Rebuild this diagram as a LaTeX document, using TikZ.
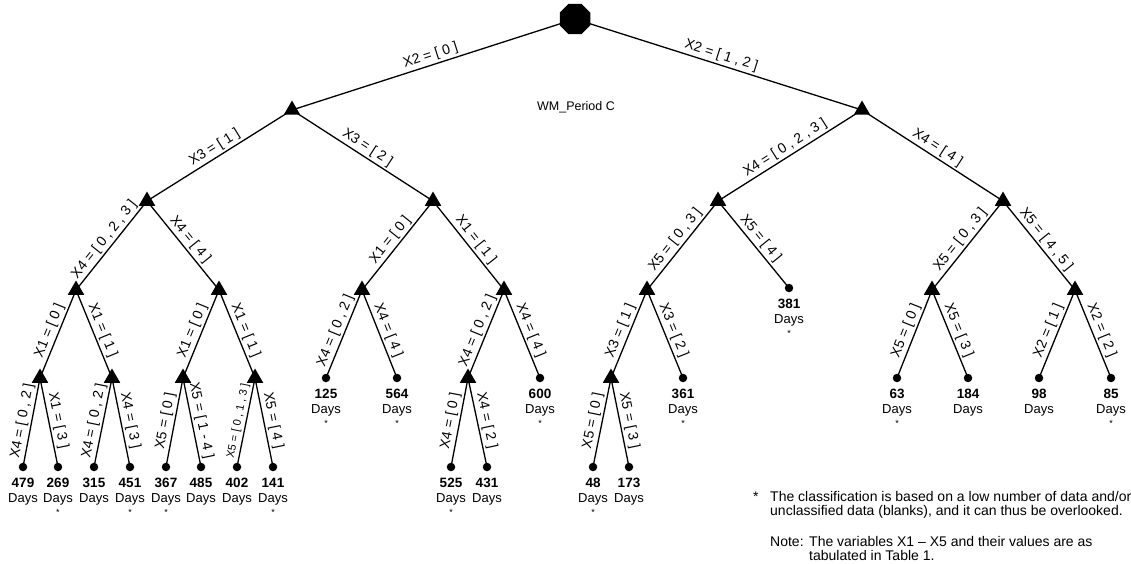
\documentclass[tikz,border=0pt]{standalone}
\usepackage{fontspec}
\setmainfont{Liberation Sans}
\usetikzlibrary{shapes.geometric}
\newcommand\lf[4]{%
  \node[leaf] (#1) at (#2,#3) {};
  \node[numf] (#1n) at (#2,#3+20.5) {#4};
  \node[daysf] (#1d) at (#2,#3+35.5) {Days};}
\newcommand\lfs[4]{\lf{#1}{#2}{#3}{#4}\node[starf] (#1s) at (#2,#3+48) {*};}
\begin{document}
\begin{tikzpicture}[x=1pt,y=-1pt,
  tri/.style={regular polygon,regular polygon sides=3,fill=black,inner sep=0pt,minimum size=19pt},
  leaf/.style={circle,fill=black,inner sep=0pt,minimum size=8.5pt},
  rootsty/.style={regular polygon,regular polygon sides=8,fill=black,inner sep=0pt,minimum size=33pt},
  edge/.style={line width=1.3pt},
  lab/.style={sloped,above,font=\fontsize{14}{14}\selectfont,inner sep=2pt},
  smalllab/.style={sloped,above,font=\fontsize{11}{11}\selectfont,inner sep=2pt},
  numf/.style={anchor=base,inner sep=0pt,font=\bfseries\fontsize{13.5}{13.5}\selectfont},
  daysf/.style={anchor=base,inner sep=0pt,font=\fontsize{13}{13}\selectfont},
  starf/.style={anchor=base,inner sep=0pt,font=\fontsize{9}{9}\selectfont},
  note/.style={anchor=base west,inner sep=0pt,font=\fontsize{14}{14}\selectfont}]
\useasboundingbox (0,0) rectangle (1131,564);
% internal nodes
\node[rootsty] (R) at (575,19) {};
\node[tri] (A) at (292,110) {};
\node[tri] (B) at (862,110) {};
\node[tri] (A1) at (147,201) {};
\node[tri] (A2) at (433,201) {};
\node[tri] (B1) at (718,201) {};
\node[tri] (B2) at (1003,201) {};
\node[tri] (A1a) at (76,290) {};
\node[tri] (A1b) at (219,290) {};
\node[tri] (A2a) at (362,290) {};
\node[tri] (A2b) at (504,290) {};
\node[tri] (B1a) at (647,290) {};
\node[tri] (B2a) at (932,290) {};
\node[tri] (B2b) at (1075,290) {};
\node[tri] (A1a1) at (40,378) {};
\node[tri] (A1a2) at (112,378) {};
\node[tri] (A1b1) at (183,378) {};
\node[tri] (A1b2) at (255,378) {};
\node[tri] (A2b1) at (468,378) {};
\node[tri] (B1a1) at (611,378) {};
% leaves
\lfs{L381}{789}{288}{381}
\lfs{L125}{326}{378}{125}
\lfs{L564}{397}{378}{564}
\lfs{L600}{540}{378}{600}
\lfs{L361}{683}{378}{361}
\lfs{L63}{897}{378}{63}
\lf{L184}{968}{378}{184}
\lf{L98}{1039}{378}{98}
\lfs{L85}{1111}{378}{85}
\lf{L479}{23}{467}{479}
\lfs{L269}{58}{467}{269}
\lf{L315}{94}{467}{315}
\lfs{L451}{130}{467}{451}
\lfs{L367}{166}{467}{367}
\lf{L485}{201}{467}{485}
\lf{L402}{237}{467}{402}
\lfs{L141}{273}{467}{141}
\lfs{L525}{451}{467}{525}
\lf{L431}{487}{467}{431}
\lfs{L48}{593}{467}{48}
\lf{L173}{629}{467}{173}
% edges
\draw[edge] (R.center) -- node[lab]{X2 = [ 0 ]} (A.center);
\draw[edge] (R.center) -- node[lab]{X2 = [ 1 , 2 ]} (B.center);
\draw[edge] (A.center) -- node[lab]{X3 = [ 1 ]} (A1.center);
\draw[edge] (A.center) -- node[lab]{X3 = [ 2 ]} (A2.center);
\draw[edge] (B.center) -- node[lab]{X4 = [ 0 , 2 , 3 ]} (B1.center);
\draw[edge] (B.center) -- node[lab]{X4 = [ 4 ]} (B2.center);
\draw[edge] (A1.center) -- node[lab]{X4 = [ 0 , 2 , 3 ]} (A1a.center);
\draw[edge] (A1.center) -- node[lab]{X4 = [ 4 ]} (A1b.center);
\draw[edge] (A2.center) -- node[lab]{X1 = [ 0 ]} (A2a.center);
\draw[edge] (A2.center) -- node[lab]{X1 = [ 1 ]} (A2b.center);
\draw[edge] (B1.center) -- node[lab]{X5 = [ 0 , 3 ]} (B1a.center);
\draw[edge] (B1.center) -- node[lab]{X5 = [ 4 ]} (L381.center);
\draw[edge] (B2.center) -- node[lab]{X5 = [ 0 , 3 ]} (B2a.center);
\draw[edge] (B2.center) -- node[lab]{X5 = [ 4 , 5 ]} (B2b.center);
\draw[edge] (A1a.center) -- node[lab]{X1 = [ 0 ]} (A1a1.center);
\draw[edge] (A1a.center) -- node[lab]{X1 = [ 1 ]} (A1a2.center);
\draw[edge] (A1b.center) -- node[lab]{X1 = [ 0 ]} (A1b1.center);
\draw[edge] (A1b.center) -- node[lab]{X1 = [ 1 ]} (A1b2.center);
\draw[edge] (A2a.center) -- node[lab]{X4 = [ 0 , 2 ]} (L125.center);
\draw[edge] (A2a.center) -- node[lab]{X4 = [ 4 ]} (L564.center);
\draw[edge] (A2b.center) -- node[lab]{X4 = [ 0 , 2 ]} (A2b1.center);
\draw[edge] (A2b.center) -- node[lab]{X4 = [ 4 ]} (L600.center);
\draw[edge] (B1a.center) -- node[lab]{X3 = [ 1 ]} (B1a1.center);
\draw[edge] (B1a.center) -- node[lab]{X3 = [ 2 ]} (L361.center);
\draw[edge] (B2a.center) -- node[lab]{X5 = [ 0 ]} (L63.center);
\draw[edge] (B2a.center) -- node[lab]{X5 = [ 3 ]} (L184.center);
\draw[edge] (B2b.center) -- node[lab]{X2 = [ 1 ]} (L98.center);
\draw[edge] (B2b.center) -- node[lab]{X2 = [ 2 ]} (L85.center);
\draw[edge] (A1a1.center) -- node[lab]{X4 = [ 0 , 2 ]} (L479.center);
\draw[edge] (A1a1.center) -- node[lab]{X1 = [ 3 ]} (L269.center);
\draw[edge] (A1a2.center) -- node[lab]{X4 = [ 0 , 2 ]} (L315.center);
\draw[edge] (A1a2.center) -- node[lab]{X4 = [ 3 ]} (L451.center);
\draw[edge] (A1b1.center) -- node[lab]{X5 = [ 0 ]} (L367.center);
\draw[edge] (A1b1.center) -- node[lab]{X5 = [ 1 - 4 ]} (L485.center);
\draw[edge] (A1b2.center) -- node[smalllab]{X5 = [ 0 , 1 , 3 ]} (L402.center);
\draw[edge] (A1b2.center) -- node[lab]{X5 = [ 4 ]} (L141.center);
\draw[edge] (A2b1.center) -- node[lab]{X4 = [ 0 ]} (L525.center);
\draw[edge] (A2b1.center) -- node[lab]{X4 = [ 2 ]} (L431.center);
\draw[edge] (B1a1.center) -- node[lab]{X5 = [ 0 ]} (L48.center);
\draw[edge] (B1a1.center) -- node[lab]{X5 = [ 3 ]} (L173.center);
% title and notes
\node[inner sep=0pt,font=\fontsize{12.5}{12.5}\selectfont] (title) at (576,107) {WM\_Period C};
\node[note] (ast) at (753,501) {*};
\node[note] (n1) at (770,501) {The classification is based on a low number of data and/or};
\node[note] (n2) at (770,515) {unclassified data (blanks), and it can thus be overlooked.};
\node[note] (n3) at (770,546) {Note:};
\node[note] (n4) at (809,546) {The variables X1 -- X5 and their values are as};
\node[note] (n5) at (809,560) {tabulated in Table 1.};
\end{tikzpicture}
\end{document}
